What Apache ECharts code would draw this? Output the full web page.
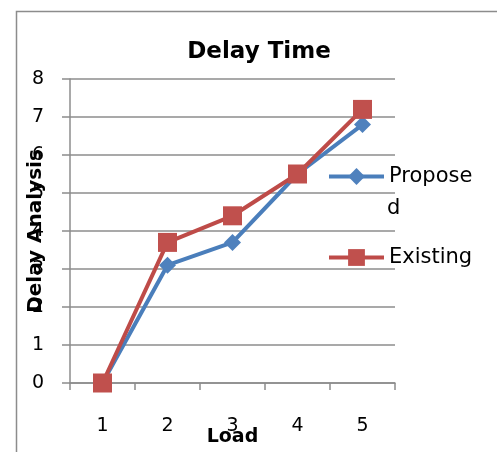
<!DOCTYPE html>
<html>
<head>
<meta charset="utf-8">
<script src="https://cdn.jsdelivr.net/npm/echarts@6/dist/echarts.min.js"></script>
<style>
  html, body { margin: 0; padding: 0; background: #fff; }
  #chart { width: 497px; height: 452px; }
</style>
</head>
<body>
<div id="chart"></div>
<script>
// Delay time per load level for the two schemes
const loads = ['1', '2', '3', '4', '5'];
const proposed = [0, 3.1, 3.7, 5.5, 6.8];
const existing = [0, 3.7, 4.4, 5.5, 7.2];
const yTicks = { min: 0, max: 8, interval: 1 };
// the "Proposed" legend entry is too wide for the space and wraps
const proposedLegendLines = ['Propose', 'd'];

const FONT = '"DejaVu Sans", sans-serif';
const GRID_GREY = '#8c8c8c';
const BLUE_LINE = '#4A7EBB', BLUE_MARK = '#4F81BD';
const RED_LINE = '#BE4B48', RED_MARK = '#C0504D';

const chart = echarts.init(document.getElementById('chart'), null, { renderer: 'canvas' });

chart.setOption({
  backgroundColor: '#fff',
  animation: false,
  title: {
    text: 'Delay Time',
    left: 254, top: 36, textAlign: 'center',
    textStyle: { fontFamily: FONT, fontWeight: 'bold', fontSize: 23, color: '#000' }
  },
  graphic: [{
    type: 'rect', left: 14, top: 9, silent: true, z: -1,
    shape: { width: 700, height: 700 },
    style: { fill: 'none', stroke: GRID_GREY, lineWidth: 1.5 }
  }, {
    type: 'text', x: 387, y: 209, silent: true,
    style: {
      text: proposedLegendLines[1],
      font: '21px ' + FONT, fill: '#000', verticalAlign: 'middle'
    }
  }],
  legend: [{
    data: ['Proposed'],
    left: 327, top: 166, padding: 0,
    itemWidth: 55, itemHeight: 21,
    lineStyle: { width: 4 },
    formatter: () => proposedLegendLines[0],
    textStyle: { fontFamily: FONT, fontSize: 21, color: '#000' }
  }, {
    data: ['Existing'],
    left: 327, top: 247, padding: 0,
    itemWidth: 55, itemHeight: 21,
    lineStyle: { width: 4 },
    textStyle: { fontFamily: FONT, fontSize: 21, color: '#000' }
  }],
  grid: { left: 70, top: 79, right: 102, bottom: 69, containLabel: false, outerBoundsMode: 'none' },
  xAxis: {
    type: 'category',
    data: loads,
    boundaryGap: true,
    name: 'Load', nameLocation: 'middle', nameGap: 45, nameMoveOverlap: false,
    nameTextStyle: { fontFamily: FONT, fontWeight: 'bold', fontSize: 19, color: '#000', verticalAlign: 'top' },
    axisLine: { lineStyle: { color: GRID_GREY, width: 1.5 } },
    axisTick: { show: true, length: 7, lineStyle: { color: GRID_GREY, width: 1.5 } },
    axisLabel: { margin: 34, fontFamily: FONT, fontSize: 19, color: '#000' },
    splitLine: { show: false }
  },
  yAxis: {
    type: 'value',
    min: yTicks.min, max: yTicks.max, interval: yTicks.interval,
    name: 'Delay Analysis', nameLocation: 'middle', nameGap: 24, nameRotate: 90, nameMoveOverlap: false,
    nameTextStyle: { fontFamily: FONT, fontWeight: 'bold', fontSize: 20, color: '#000' },
    axisLine: { show: true, lineStyle: { color: GRID_GREY, width: 1.5 } },
    axisTick: { show: true, length: 8, lineStyle: { color: GRID_GREY, width: 1.5 } },
    axisLabel: { margin: 26, fontFamily: FONT, fontSize: 19, color: '#000' },
    splitLine: { show: true, lineStyle: { color: GRID_GREY, width: 1.5 } }
  },
  series: [{
    name: 'Proposed',
    type: 'line',
    data: proposed,
    symbol: 'diamond', symbolSize: 17,
    lineStyle: { color: BLUE_LINE, width: 4 },
    itemStyle: { color: BLUE_MARK },
    z: 2
  }, {
    name: 'Existing',
    type: 'line',
    data: existing,
    symbol: 'rect', symbolSize: 19,
    lineStyle: { color: RED_LINE, width: 4 },
    itemStyle: { color: RED_MARK },
    z: 3
  }]
});
</script>
</body>
</html>
